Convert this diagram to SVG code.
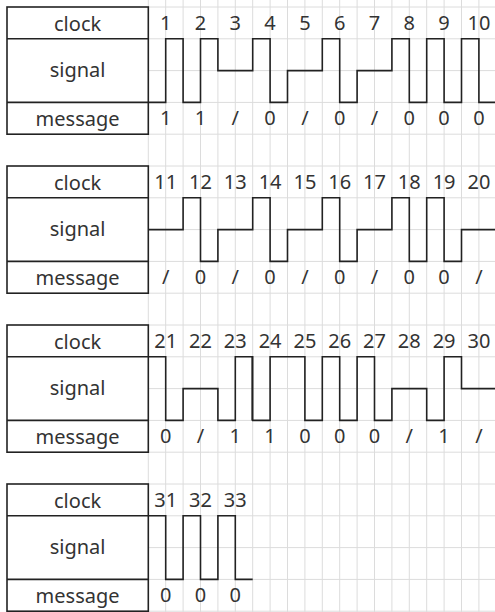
<svg xmlns="http://www.w3.org/2000/svg" width="495" height="612" viewBox="0 0 495 612">
<style>
.bg{fill:#ffffff}
.grid line{stroke:#dcdcdc;stroke-width:1}
.box{fill:#ffffff;stroke:#222;stroke-width:1.6}
.sep{stroke:#222;stroke-width:1.6}
.wave{fill:none;stroke:#222;stroke-width:1.6;stroke-linejoin:miter}
text{font-family:"Noto Sans","Open Sans","DejaVu Sans",sans-serif;font-size:20px;fill:#333;text-anchor:middle}
</style>
<defs>
<g id="labelbox">
<rect class="box" x="7" y="7" width="141.3" height="127.2"/>
<line class="sep" x1="7" y1="38.8" x2="148.3" y2="38.8"/>
<line class="sep" x1="7" y1="102.4" x2="148.3" y2="102.4"/>
<text x="77.6" y="31">clock</text>
<text x="77.6" y="76.5">signal</text>
<text x="77.6" y="126">message</text>
</g>
</defs>
<rect class="bg" x="0" y="0" width="495" height="612"/>
<g id="grid" class="grid">
<line x1="148.3" y1="0" x2="148.3" y2="612"/><line x1="165.7" y1="0" x2="165.7" y2="612"/><line x1="183.1" y1="0" x2="183.1" y2="612"/><line x1="200.5" y1="0" x2="200.5" y2="612"/><line x1="217.9" y1="0" x2="217.9" y2="612"/><line x1="235.3" y1="0" x2="235.3" y2="612"/><line x1="252.7" y1="0" x2="252.7" y2="612"/><line x1="270.1" y1="0" x2="270.1" y2="612"/><line x1="287.5" y1="0" x2="287.5" y2="612"/><line x1="304.9" y1="0" x2="304.9" y2="612"/><line x1="322.3" y1="0" x2="322.3" y2="612"/><line x1="339.7" y1="0" x2="339.7" y2="612"/><line x1="357.1" y1="0" x2="357.1" y2="612"/><line x1="374.5" y1="0" x2="374.5" y2="612"/><line x1="391.9" y1="0" x2="391.9" y2="612"/><line x1="409.3" y1="0" x2="409.3" y2="612"/><line x1="426.7" y1="0" x2="426.7" y2="612"/><line x1="444.1" y1="0" x2="444.1" y2="612"/><line x1="461.5" y1="0" x2="461.5" y2="612"/><line x1="478.9" y1="0" x2="478.9" y2="612"/>
<line x1="148.3" y1="7" x2="495" y2="7"/><line x1="148.3" y1="38.8" x2="495" y2="38.8"/><line x1="148.3" y1="70.6" x2="495" y2="70.6"/><line x1="148.3" y1="102.4" x2="495" y2="102.4"/><line x1="148.3" y1="134.2" x2="495" y2="134.2"/><line x1="148.3" y1="166" x2="495" y2="166"/><line x1="148.3" y1="197.8" x2="495" y2="197.8"/><line x1="148.3" y1="229.6" x2="495" y2="229.6"/><line x1="148.3" y1="261.4" x2="495" y2="261.4"/><line x1="148.3" y1="293.2" x2="495" y2="293.2"/><line x1="148.3" y1="325" x2="495" y2="325"/><line x1="148.3" y1="356.8" x2="495" y2="356.8"/><line x1="148.3" y1="388.6" x2="495" y2="388.6"/><line x1="148.3" y1="420.4" x2="495" y2="420.4"/><line x1="148.3" y1="452.2" x2="495" y2="452.2"/><line x1="148.3" y1="484" x2="495" y2="484"/><line x1="148.3" y1="515.8" x2="495" y2="515.8"/><line x1="148.3" y1="547.6" x2="495" y2="547.6"/><line x1="148.3" y1="579.4" x2="495" y2="579.4"/><line x1="148.3" y1="611.2" x2="495" y2="611.2"/>
</g>
<g id="block1">
<use href="#labelbox"/>
<g id="clock1"><text x="165.7" y="30">1</text><text x="200.5" y="30">2</text><text x="235.3" y="30">3</text><text x="270.1" y="30">4</text><text x="304.9" y="30">5</text><text x="339.7" y="30">6</text><text x="374.5" y="30">7</text><text x="409.3" y="30">8</text><text x="444.1" y="30">9</text><text x="478.9" y="30">10</text></g>
<g id="message1"><text x="165.7" y="125">1</text><text x="200.5" y="125">1</text><text x="235.3" y="125">/</text><text x="270.1" y="125">0</text><text x="304.9" y="125">/</text><text x="339.7" y="125">0</text><text x="374.5" y="125">/</text><text x="409.3" y="125">0</text><text x="444.1" y="125">0</text><text x="478.9" y="125">0</text></g>
</g>
<g id="block2" transform="translate(0,159)">
<use href="#labelbox"/>
<g id="clock2"><text x="165.7" y="30">11</text><text x="200.5" y="30">12</text><text x="235.3" y="30">13</text><text x="270.1" y="30">14</text><text x="304.9" y="30">15</text><text x="339.7" y="30">16</text><text x="374.5" y="30">17</text><text x="409.3" y="30">18</text><text x="444.1" y="30">19</text><text x="478.9" y="30">20</text></g>
<g id="message2"><text x="165.7" y="125">/</text><text x="200.5" y="125">0</text><text x="235.3" y="125">/</text><text x="270.1" y="125">0</text><text x="304.9" y="125">/</text><text x="339.7" y="125">0</text><text x="374.5" y="125">/</text><text x="409.3" y="125">0</text><text x="444.1" y="125">0</text><text x="478.9" y="125">/</text></g>
</g>
<g id="block3" transform="translate(0,318)">
<use href="#labelbox"/>
<g id="clock3"><text x="165.7" y="30">21</text><text x="200.5" y="30">22</text><text x="235.3" y="30">23</text><text x="270.1" y="30">24</text><text x="304.9" y="30">25</text><text x="339.7" y="30">26</text><text x="374.5" y="30">27</text><text x="409.3" y="30">28</text><text x="444.1" y="30">29</text><text x="478.9" y="30">30</text></g>
<g id="message3"><text x="165.7" y="125">0</text><text x="200.5" y="125">/</text><text x="235.3" y="125">1</text><text x="270.1" y="125">1</text><text x="304.9" y="125">0</text><text x="339.7" y="125">0</text><text x="374.5" y="125">0</text><text x="409.3" y="125">/</text><text x="444.1" y="125">1</text><text x="478.9" y="125">/</text></g>
</g>
<g id="block4" transform="translate(0,477)">
<use href="#labelbox"/>
<g id="clock4"><text x="165.7" y="30">31</text><text x="200.5" y="30">32</text><text x="235.3" y="30">33</text></g>
<g id="message4"><text x="165.7" y="125">0</text><text x="200.5" y="125">0</text><text x="235.3" y="125">0</text></g>
</g>
<g id="connectors">
<path id="wave1" class="wave" d="M148.3,102.4 H165.7 V38.8 H183.1 V102.4 H200.5 V38.8 H217.9 V70.6 H252.7 V38.8 H270.1 V102.4 H287.5 V70.6 H322.3 V38.8 H339.7 V102.4 H357.1 V70.6 H391.9 V38.8 H409.3 V102.4 H426.7 V38.8 H444.1 V102.4 H461.5 V38.8 H478.9 V102.4 H496.3"/>
<path id="wave2" class="wave" transform="translate(0,159)" d="M148.3,70.6 H183.1 V38.8 H200.5 V102.4 H217.9 V70.6 H252.7 V38.8 H270.1 V102.4 H287.5 V70.6 H322.3 V38.8 H339.7 V102.4 H357.1 V70.6 H391.9 V38.8 H409.3 V102.4 H426.7 V38.8 H444.1 V102.4 H461.5 V70.6 H496.3"/>
<path id="wave3" class="wave" transform="translate(0,318)" d="M148.3,38.8 H165.7 V102.4 H183.1 V70.6 H217.9 V102.4 H235.3 V38.8 H252.7 V102.4 H270.1 V38.8 H304.9 V102.4 H322.3 V38.8 H339.7 V102.4 H357.1 V38.8 H374.5 V102.4 H391.9 V70.6 H426.7 V102.4 H444.1 V38.8 H461.5 V70.6 H496.3"/>
<line class="wave" x1="252.2" y1="356.8" x2="252.2" y2="420.4" stroke-width="2.6"/>
<path id="wave4" class="wave" transform="translate(0,477)" d="M148.3,38.8 H165.7 V102.4 H183.1 V38.8 H200.5 V102.4 H217.9 V38.8 H235.3 V102.4 H252.7"/>
</g>
</svg>
